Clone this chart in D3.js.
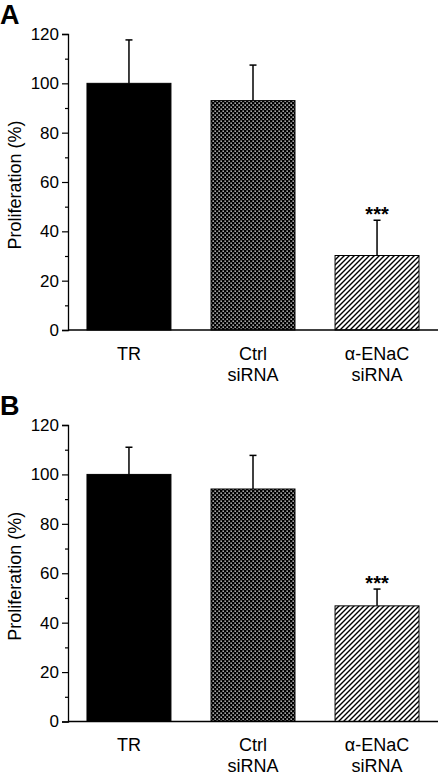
<!DOCTYPE html>
<html><head><meta charset="utf-8">
<script src="https://cdn.jsdelivr.net/npm/d3@7"></script>
<style>body{margin:0;background:#fff}svg{display:block}</style>
</head><body>
<script>
const categories = ["TR", "Ctrl siRNA", "α-ENaC siRNA"];
const categoryLines = [["TR"], ["Ctrl", "siRNA"], ["α-ENaC", "siRNA"]];
const valuesA = [100, 93, 30.2];
const errorsA = [17.6, 14.4, 14.3];
const valuesB = [100, 94.1, 46.8];
const errorsB = [11, 13.6, 6.8];
const signif = ["", "", "***"];
const majorTicks = [0, 20, 40, 60, 80, 100, 120];
const minorTicks = [10, 30, 50, 70, 90, 110];
const panels = [
  {label: "A", values: valuesA, errors: errorsA, top: 34, bottom: 330},
  {label: "B", values: valuesB, errors: errorsB, top: 425, bottom: 721.5}
];

const W = 438, H = 775;
const svg = d3.select("body").append("svg").attr("width", W).attr("height", H)
  .style("font-family", "'Liberation Sans', Arial, sans-serif");

const defs = svg.append("defs");
const cross = defs.append("pattern").attr("id", "cross").attr("patternUnits", "userSpaceOnUse")
  .attr("width", 4).attr("height", 4);
cross.append("rect").attr("width", 4).attr("height", 4).attr("fill", "#000");
cross.append("rect").attr("x", 0.5).attr("y", 0.5).attr("width", 1.3).attr("height", 1.3).attr("fill", "#fff");
cross.append("rect").attr("x", 2.5).attr("y", 2.5).attr("width", 1.3).attr("height", 1.3).attr("fill", "#fff");
const hatch = defs.append("pattern").attr("id", "hatch").attr("patternUnits", "userSpaceOnUse")
  .attr("width", 5).attr("height", 5);
hatch.append("rect").attr("width", 5).attr("height", 5).attr("fill", "#fff");
hatch.append("path").attr("d", "M-1,1 l2,-2 M0,5 l5,-5 M4,6 l2,-2")
  .attr("stroke", "#000").attr("stroke-width", 1.4);
const fills = ["#000", "url(#cross)", "url(#hatch)"];

const x = d3.scaleBand().domain(categories).range([68, 438]).paddingInner(0.323).paddingOuter(0.153);

panels.forEach(p => {
  const y = d3.scaleLinear().domain([0, 120]).range([p.bottom, p.top]);
  const g = svg.append("g");

  g.selectAll("rect.bar").data(categories).join("rect")
    .attr("x", d => x(d)).attr("width", x.bandwidth())
    .attr("y", (d, i) => y(p.values[i]))
    .attr("height", (d, i) => y(0) - y(p.values[i]))
    .attr("fill", (d, i) => fills[i]).attr("stroke", "#000").attr("stroke-width", 1);

  categories.forEach((c, i) => {
    const cx = x(c) + x.bandwidth() / 2;
    const yt = y(p.values[i] + p.errors[i]);
    g.append("line").attr("x1", cx).attr("x2", cx).attr("y1", y(p.values[i])).attr("y2", yt)
      .attr("stroke", "#000").attr("stroke-width", 1.5);
    g.append("line").attr("x1", cx - 3.5).attr("x2", cx + 3.5).attr("y1", yt).attr("y2", yt)
      .attr("stroke", "#000").attr("stroke-width", 1.5);
    if (signif[i]) {
      g.append("text").attr("x", cx).attr("y", yt + 1).attr("text-anchor", "middle")
        .attr("font-size", 20).attr("font-weight", "bold").text(signif[i]);
    }
  });

  const yAxis = g.append("g").attr("transform", "translate(68,0)")
    .call(d3.axisLeft(y).tickValues(majorTicks).tickSize(6).tickPadding(3));
  yAxis.selectAll("text").attr("font-size", 17).attr("fill", "#000");
  yAxis.select(".domain").attr("stroke", "#000").attr("stroke-width", 1.3);
  yAxis.selectAll(".tick line").attr("stroke", "#000").attr("stroke-width", 1.2);
  g.append("g").attr("transform", "translate(68,0)")
    .call(d3.axisLeft(y).tickValues(minorTicks).tickSize(3).tickFormat(""))
    .call(a => a.select(".domain").remove())
    .selectAll(".tick line").attr("stroke", "#000").attr("stroke-width", 1.2);

  g.append("line").attr("x1", 68).attr("x2", 438).attr("y1", y(0)).attr("y2", y(0))
    .attr("stroke", "#000").attr("stroke-width", 1.3);

  categories.forEach((c, i) => {
    const t = g.append("text").attr("text-anchor", "middle").attr("font-size", 18)
      .attr("x", x(c) + x.bandwidth() / 2).attr("y", y(0) + 29.5);
    categoryLines[i].forEach((ln, k) => {
      t.append("tspan").attr("x", x(c) + x.bandwidth() / 2).attr("dy", k === 0 ? 0 : 21).text(ln);
    });
  });

  g.append("text").attr("transform", `translate(21,${(p.top + p.bottom) / 2 + 3}) rotate(-90)`)
    .attr("text-anchor", "middle").attr("font-size", 18).text("Proliferation (%)");

  g.append("text").attr("x", 0).attr("y", p.top - 10).attr("font-size", 27)
    .attr("font-weight", "bold").text(p.label);
});
</script>
</body></html>
